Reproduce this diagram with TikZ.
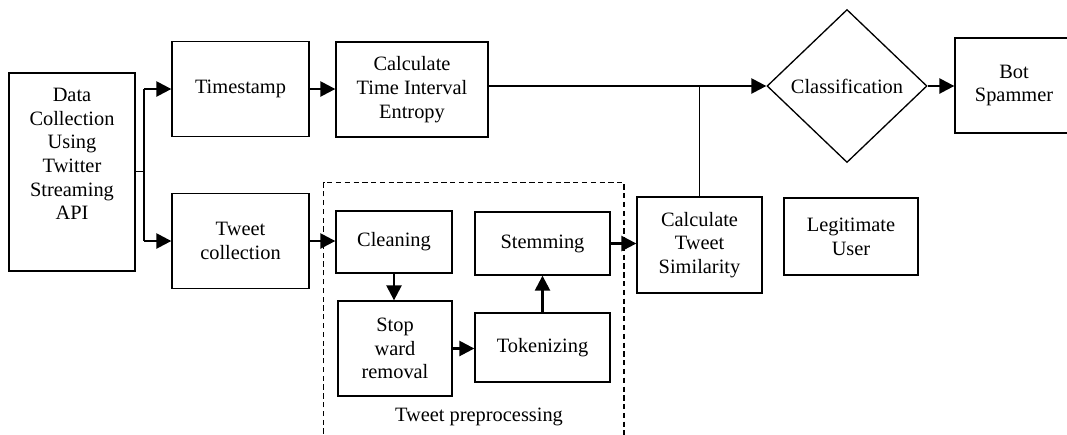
\documentclass[tikz,border=0pt]{standalone}
\usepackage{fontspec}
\setmainfont{Liberation Serif}
\usetikzlibrary{arrows.meta,shapes.geometric}

\tikzset{
  box/.style={draw, line width=0.75pt, align=center, inner sep=0pt},
  link/.style={line width=0.75pt},
  flow/.style={line width=1.4pt, -{Triangle[length=0.3cm,width=0.3cm]}},
}

\begin{document}
\begin{tikzpicture}[font=\fontsize{11.6}{13.5}\selectfont]
   	\useasboundingbox (0,0) rectangle (21.34,-8.68);

	%Recuadro punteado del preprocesado (sigue bajo el borde)
   	\draw[line width=0.6pt, dash pattern=on 3pt off 2pt] (6.47,-9.2) rectangle (12.48,-3.65);
   	\node (prep) at (9.58,-8.34) {Tweet preprocessing};

	%Entrada de datos
   	\node[box, minimum width=2.52cm, minimum height=3.96cm] (data) at (1.44,-3.44) {};
   	\node[align=center] (datatext) at (1.44,-3.08) {Data\\Collection\\Using\\Twitter\\Streaming\\API};

	%Rama superior
   	\node[box, minimum width=2.74cm, minimum height=1.9cm] (stamp) at (4.81,-1.78) {Timestamp};
   	\node[box, minimum width=3.04cm, minimum height=1.9cm] (entropy) at (8.24,-1.79) {Calculate\\Time Interval\\Entropy};

	%Rama inferior
   	\node[box, minimum width=2.74cm, minimum height=1.9cm] (collect) at (4.81,-4.82) {Tweet\\collection};
   	\node[box, minimum width=2.32cm, minimum height=1.24cm] (clean) at (7.88,-4.84) {Cleaning};
   	\node[box, minimum width=2.28cm, minimum height=1.9cm] (stop) at (7.90,-6.97) {Stop\\ward\\removal};
   	\node[box, minimum width=2.7cm, minimum height=1.38cm] (token) at (10.85,-6.95) {Tokenizing};
   	\node[box, minimum width=2.7cm, minimum height=1.26cm] (stem) at (10.85,-4.87) {Stemming};
   	\node[box, minimum width=2.5cm, minimum height=1.92cm] (similar) at (13.99,-4.90) {Calculate\\Tweet\\Similarity};

	%Clasificacion y salidas
   	\node[draw, diamond, line width=0.75pt, inner sep=0pt, minimum width=3.2cm, minimum height=3.06cm] (classify) at (16.94,-1.72) {Classification};
   	\node[box, minimum width=2.36cm, minimum height=1.9cm] (bot) at (20.28,-1.71) {Bot\\Spammer};
   	\node[box, minimum width=2.68cm, minimum height=1.54cm] (legit) at (17.02,-4.73) {Legitimate\\User};

	%Bifurcacion desde los datos
   	\coordinate (fork) at (2.88,-3.43);
   	\draw[link] (data.east |- fork) -- (fork);
   	\draw[link] (fork |- stamp.west) -- (fork |- collect.west);
   	\draw[flow] (fork |- stamp.west) -- (stamp.west);
   	\draw[flow] (fork |- collect.west) -- (collect.west);

	%Flechas
   	\draw[flow] (stamp.east) -- (stamp.east -| entropy.west);
   	\coordinate (join) at (similar.north |- classify.west);
   	\draw[flow] (entropy.east |- classify.west) -- (classify.west);
   	\draw[link] (similar.north) -- (join);
   	\draw[flow] (classify.east) -- (classify.east -| bot.west);
   	\draw[flow] (collect.east) -- (collect.east -| clean.west);
   	\draw[flow] (clean.south) -- (clean.south |- stop.north);
   	\draw[flow] (stop.east) -- (stop.east -| token.west);
   	\draw[flow] (token.north) -- (token.north |- stem.south);
   	\draw[flow] (stem.east) -- (stem.east -| similar.west);
\end{tikzpicture}
\end{document}
